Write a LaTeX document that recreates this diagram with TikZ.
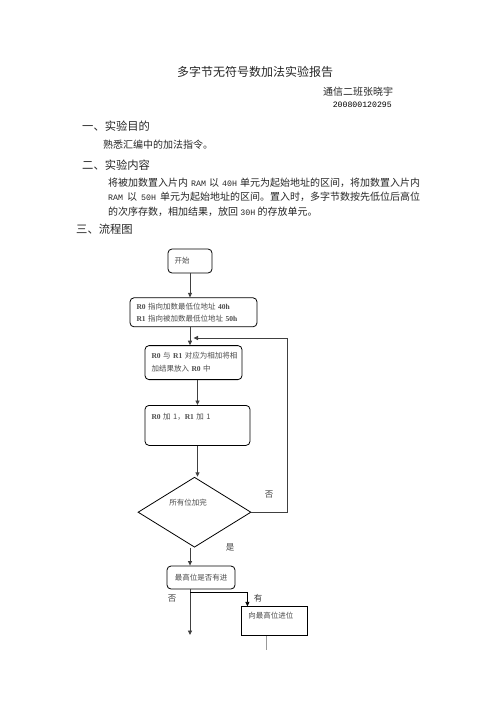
\documentclass[tikz,border=0pt]{standalone}
\usepackage{fontspec}
\setmainfont{Noto Sans CJK SC}
\newfontfamily\mono{Liberation Mono}
\newfontfamily\latin{Liberation Serif}
\usetikzlibrary{positioning, shapes.geometric, arrows.meta}
\newcommand{\reg}[1]{{\latin\bfseries #1}}
\newcommand{\code}[1]{{\mono\fontsize{8.3}{10}\selectfont #1}}

\begin{document}
\begin{tikzpicture}
            [x=1pt, y=-1pt,
             heading/.style = {anchor=west, inner sep=0pt, text=black!85, font=\fontsize{11.3}{13}\selectfont},
             body/.style = {anchor=west, inner sep=0pt, text=black!85, font=\fontsize{10}{12}\selectfont},
             box/.style = {draw, rounded corners=4pt, line width=0.8pt, align=left, inner xsep=6.5pt, inner ysep=0pt,
                           text=black!70, font=\fontsize{7.5}{12}\selectfont},
             arrow/.style = {-{Triangle[length=4.5pt, width=4pt]}, line width=0.9pt, draw=black!75},
             tag/.style = {inner sep=0pt, text=black!75, font=\fontsize{8.5}{10}\selectfont}]
            \useasboundingbox[fill=white] (0,0) rectangle (496,702);

            % header
            \node[font=\fontsize{12}{14}\selectfont, text=black!85] (title) at (255,72) {多字节无符号数加法实验报告};
            \node[body] (author) at (323,92) {通信二班张晓宇};
            \node[anchor=east, inner sep=0pt, font=\mono\fontsize{8.2}{10}\selectfont] (number) at (392,105) {200800120295};
            \node[heading] (aim) at (82,126) {一、实验目的};
            \node[body] (aimtext) at (103,145) {熟悉汇编中的加法指令。};
            \node[heading] (task) at (82,165) {二、实验内容};
            \node[body] (line1) at (108,183) {\makebox[312pt][s]{将被加数置入片内 \code{RAM} 以 \code{40H} 单元为起始地址的区间，将加数置入片内}};
            \node[body] (line2) at (108,197) {\makebox[312pt][s]{\code{RAM} 以 \code{50H} 单元为起始地址的区间。置入时，多字节数按先低位后高位}};
            \node[body] (line3) at (108,212) {的次序存数，相加结果，放回 \code{30H} 的存放单元。};
            \node[heading] (chart) at (76,229) {三、流程图};

            % flow chart
            \node[box, minimum width=44pt, minimum height=24pt, text width=31pt] (start) at (190,261) {开始};
            \node[box, minimum width=127pt, minimum height=29pt, text width=114pt]
                (init) [below=24pt of start, xshift=3.5pt]
                {\reg{R0} 指向加数最低位地址 \reg{40h}\\\reg{R1} 指向被加数最低位地址 \reg{50h}};
            \node[box, minimum width=97pt, minimum height=34pt, text width=84pt]
                (sum) [below=18pt of init]
                {\mbox{\reg{R0} 与 \reg{R1} 对应为相加将相}\\[1pt]加结果放入 \reg{R0} 中};
            \node[box, minimum width=105pt, minimum height=40pt, text width=92pt]
                (inc) [below=25pt of sum, xshift=4pt]
                {\reg{R0} 加 1，\reg{R1} 加 1\\[7pt]~};
            \node[draw, diamond, aspect=1.6, minimum width=113pt, minimum height=70pt, inner sep=0pt, line width=0.8pt,
                  text=black!70, font=\fontsize{7.5}{12}\selectfont]
                (done) [below=31pt of inc, xshift=-3pt]
                {\raisebox{7pt}[0pt][0pt]{\makebox[0pt]{\hspace*{-13pt}所有位加完}}};
            \node[box, align=center, minimum width=68pt, minimum height=23pt, text width=55pt]
                (check) [below=18pt of done, xshift=6.5pt] {最高位是否有进};
            \node[box, rounded corners=0pt, minimum width=66pt, minimum height=29pt, text width=53pt]
                (carry) [below right=17pt and 6pt of check] {向最高位进位\\~};

            \coordinate (back) at (287,338);
            \coordinate (split) at (190,592);
            \coordinate (stop) at (190,635);
            \coordinate (tail) at (266,650);

            \draw[arrow] (start) -- (start |- init.north);
            \draw[arrow] (init.south -| start) -- (sum.north -| start);
            \draw[arrow] (sum.south -| inc) -- (inc.north);
            \draw[arrow] (inc.south) -- (inc.south |- done.north);
            \draw[arrow] (done.east) -| (back) -- (back -| sum.north);
            \draw[arrow] (done.south -| start) -- (check.north -| start);
            \draw[arrow] (check.south -| start) -- (stop);
            \draw[arrow, line width=0.7pt, draw=black] (split) -| ([xshift=6pt]carry.north west);
            \draw[line width=0.8pt, draw=black!40] (carry.south -| tail) -- (tail);

            \node[tag] (no1) at (269,495) {否};
            \node[tag] (yes1) at (230,547) {是};
            \node[tag] (no2) at (172,599) {否};
            \node[tag] (yes2) at (258,598) {有};
        \end{tikzpicture}
\end{document}
